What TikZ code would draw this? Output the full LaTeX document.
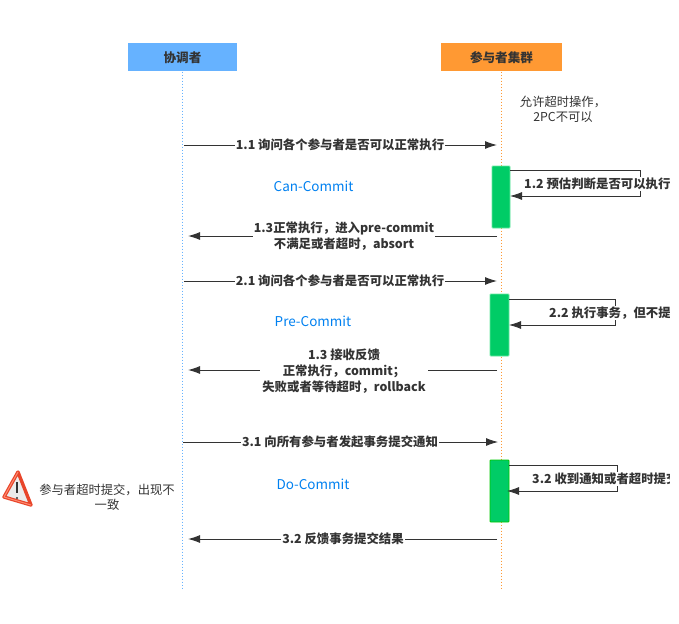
\documentclass[tikz,border=0pt]{standalone}
\usepackage{fontspec}
\setmainfont{Noto Sans CJK SC}
\usetikzlibrary{arrows.meta}
\definecolor{ink}{HTML}{333333}
\definecolor{blueh}{HTML}{66B2FF}
\definecolor{orangeh}{HTML}{FF9933}
\definecolor{barg}{HTML}{00CC66}
\definecolor{bargb}{HTML}{00C800}
\definecolor{bargl}{HTML}{66E8A0}
\definecolor{warnred}{HTML}{E8452A}
\definecolor{warnlight}{HTML}{FF8A70}
\definecolor{phase}{HTML}{0080F0}
\tikzset{
  x=1pt,y=-1pt,
  head/.style={draw=none,text=ink,font=\fontsize{12.6}{14}\selectfont\bfseries,minimum height=28pt,inner sep=0pt},
  life/.style={line width=0.8pt,dash pattern=on 0.8pt off 2.2pt},
  bar/.style={fill=barg,draw=#1,line width=0.8pt,rounded corners=0.8pt,inner sep=0pt},
  msg/.style={draw=ink,line width=1pt,-{Latex[length=12pt,width=8pt]}},
  lbl/.style={fill=white,text=ink,font=\fontsize{12.4}{16}\selectfont\bfseries,inner sep=1pt,align=center},
  note/.style={text=ink,font=\fontsize{12.3}{15}\selectfont,inner sep=0pt,align=center},
  phaselbl/.style={text=phase,font=\fontsize{13.5}{14}\selectfont,inner sep=0pt},
}
\begin{document}
\begin{tikzpicture}
\useasboundingbox (0,0) rectangle (679,623);
\node[head,fill=blueh,minimum width=109pt] (coord) at (182.5,57.5) {协调者};
\node[head,fill=orangeh,minimum width=121pt] (part) at (501.5,57.5) {参与者集群};
\coordinate (coordend) at (182.5,590);
\coordinate (partend) at (501.5,590);
\draw[life,draw=blueh] (coord.south) -- (coordend);
\draw[life,draw=orangeh] (part.south) -- (partend);

\node[note] (n0) at (563,109) {允许超时操作，\\2PC不可以};

\node[bar=bargl,minimum width=18pt,minimum height=62pt] (b1) at (501,197) {};
\node[bar=bargl,minimum width=19pt,minimum height=62pt] (b2) at (499.5,325) {};
\node[bar=bargb,minimum width=19pt,minimum height=62pt] (b3) at (499.5,491) {};

% Row 1.1
\coordinate (a1) at (184,145); \coordinate (a1e) at (497,145);
\draw[msg] (a1) -- (a1e) node[lbl,midway,xshift=-0.5pt] (l11) {1.1 询问各个参与者是否可以正常执行};
\node[phaselbl] (p1) at (313.5,186) {Can-Commit};
% Self 1.2
\coordinate (s1a) at (510,170); \coordinate (s1b) at (640,170);
\coordinate (s1c) at (640,196); \coordinate (s1d) at (510,196);
\draw[draw=ink,line width=0.8pt,-{Latex[length=12pt,width=8pt]}] (s1a) -- (s1b) -- (s1c) -- (s1d);
% Row 1.3
\coordinate (a2) at (497,236); \coordinate (a2e) at (188,236);
\draw[msg] (a2) -- (a2e);
\node[lbl] (l13) at (344,236) {1.3正常执行，进入pre-commit\\不满足或者超时，absort};
% Row 2.1
\coordinate (a3) at (184,281); \coordinate (a3e) at (497,281);
\draw[msg] (a3) -- (a3e) node[lbl,midway,xshift=-0.5pt] (l21) {2.1 询问各个参与者是否可以正常执行};
\node[phaselbl] (p2) at (313,321) {Pre-Commit};
% Self 2.2
\coordinate (s2a) at (509,299); \coordinate (s2b) at (615,299);
\coordinate (s2c) at (615,325); \coordinate (s2d) at (509,325);
\draw[draw=ink,line width=0.8pt,-{Latex[length=12pt,width=8pt]}] (s2a) -- (s2b) -- (s2c) -- (s2d);
% Row 1.3 second
\coordinate (a4) at (497,370); \coordinate (a4e) at (188,370);
\draw[msg] (a4) -- (a4e);
\node[lbl,inner sep=2pt] (l13b) at (344,371) {1.3 接收反馈\\正常执行，commit；\\失败或者等待超时，rollback};
% Row 3.1
\coordinate (a5) at (183,442); \coordinate (a5e) at (498,442);
\draw[msg,line width=0.8pt] (a5) -- (a5e) node[lbl,midway,xshift=-0.5pt] (l31) {3.1 向所有参与者发起事务提交通知};
\node[phaselbl] (p3) at (313,484) {Do-Commit};
% Self 3.2
\coordinate (s3a) at (509,465); \coordinate (s3b) at (617,465);
\coordinate (s3c) at (617,491); \coordinate (s3d) at (507,491);
\draw[draw=ink,line width=0.8pt,-{Latex[length=12pt,width=8pt]}] (s3a) -- (s3b) -- (s3c) -- (s3d);
% Row 3.2
\coordinate (a6) at (497,539); \coordinate (a6e) at (188,539);
\draw[msg] (a6) -- (a6e) node[lbl,midway,xshift=0.5pt] (l32) {3.2 反馈事务提交结果};

% self-message labels, cut off at the picture's text edge
\begin{scope}
\clip (440,0) rectangle (669,623);
\node[lbl,anchor=west] (l12) at (523,184) {1.2 预估判断是否可以执行};
\node[lbl,anchor=west] (l22) at (548,313) {2.2 执行事务，但不提交};
\node[lbl,anchor=west] (l32b) at (531,479) {3.2 收到通知或者超时提交};
\end{scope}

% warning sign
\coordinate (w1) at (18,472); \coordinate (w2) at (4,497); \coordinate (w3) at (31,505);
\draw[draw=warnred,line width=3.4pt,line join=round,fill=black!8] (w1) -- (w2) -- (w3) -- cycle;
\draw[draw=warnlight,line width=1pt,line join=round] (w1) -- (w2) -- (w3);
\draw[ink,line width=1.8pt] (17,482) -- (17,493);
\fill[ink] (17,498) circle (1.2);
\node[note] (n1) at (107,497) {参与者超时提交，出现不\\一致};
\end{tikzpicture}
\end{document}
